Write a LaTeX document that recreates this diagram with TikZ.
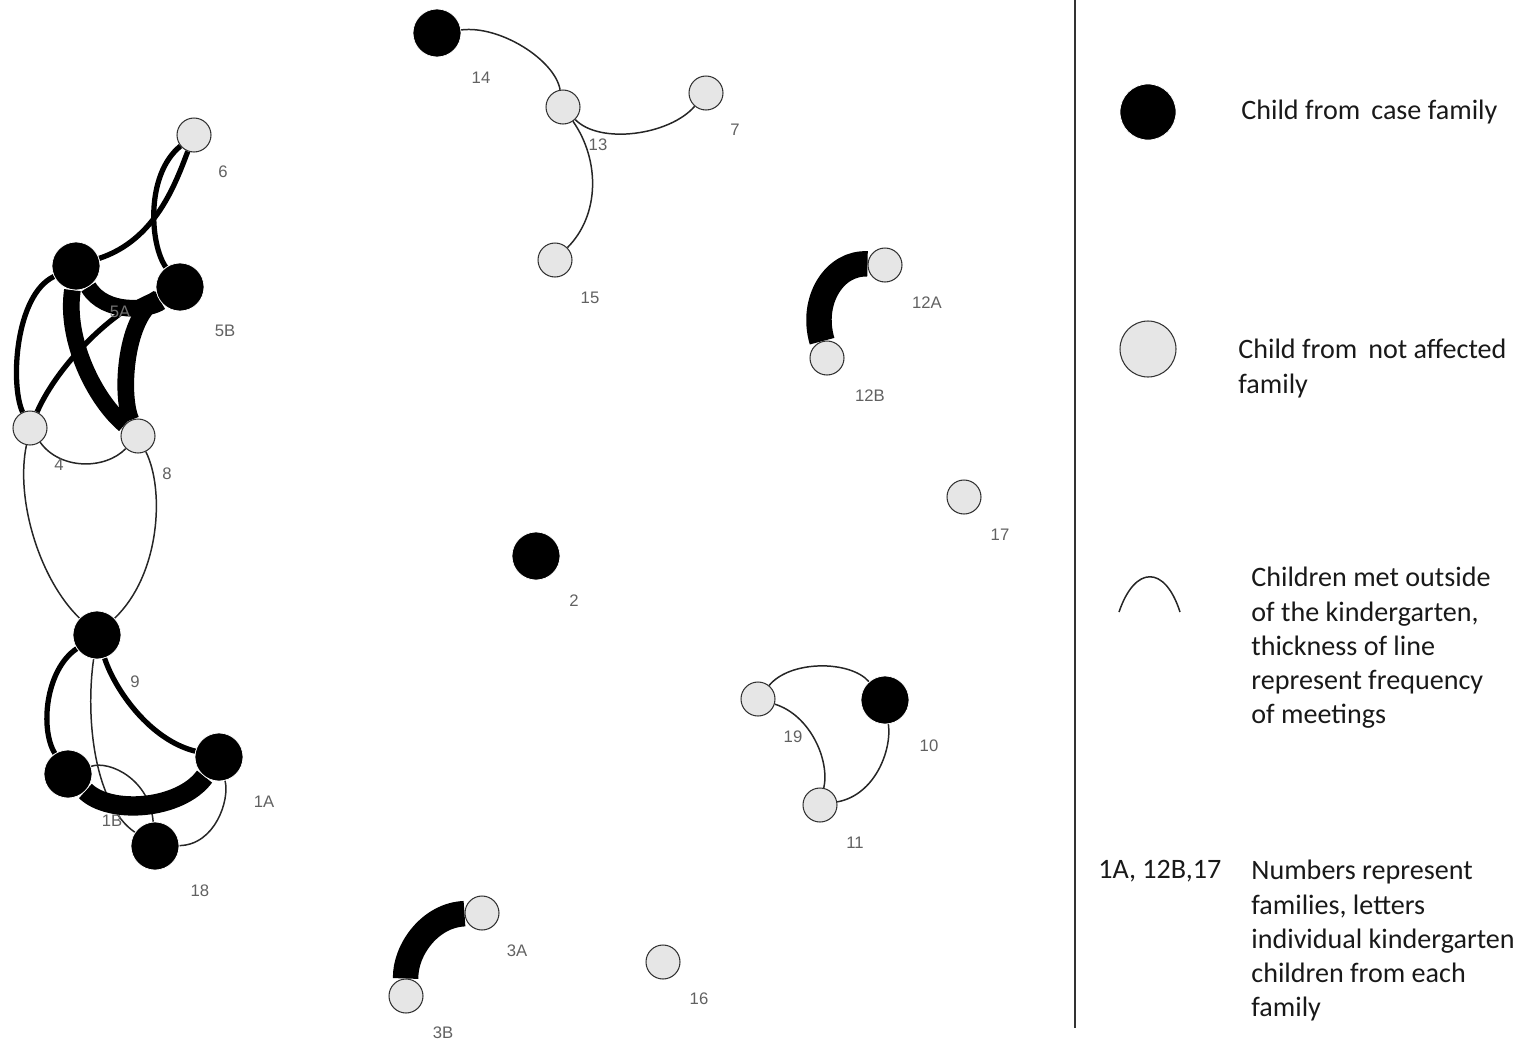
\documentclass[tikz,border=0pt]{standalone}
\usepackage{fontspec}
\setmainfont{Carlito}
\newfontfamily\lblfont{Liberation Sans}
\usetikzlibrary{backgrounds}
\definecolor{nodegray}{HTML}{E6E6E6}
\begin{document}
\begin{tikzpicture}[x=0.02cm,y=-0.02cm,
  casechild/.style={circle,fill=black,draw=white,line width=0.4pt,minimum size=0.96cm,inner sep=0},
  otherchild/.style={circle,fill=nodegray,draw=black!80,line width=0.6pt,minimum size=0.68cm,inner sep=0},
  idlabel/.style={font=\lblfont\fontsize{9.5}{11}\selectfont,text=black!62,inner sep=0},
  meet/.style={line width=0.85pt,draw=black!85},
  meetoften/.style={line width=3pt,draw=black},
  meetvery/.style={line width=9.5pt,draw=black},
  meetmost/.style={line width=14.5pt,draw=black},
  legendtext/.style={font=\fontsize{16}{19.5}\selectfont,align=left,anchor=north west,inner sep=0,text=black!90},
]
\useasboundingbox (0,0) rectangle (1519,1042);

% ---- children ----
\node[casechild]  (n14)  at (437,33)  {};
\node[otherchild] (n13)  at (563,107) {};
\node[otherchild] (n7)   at (706,93)  {};
\node[otherchild] (n15)  at (555,260) {};
\node[otherchild] (n6)   at (194,135) {};
\node[casechild]  (n5A)  at (76,266)  {};
\node[casechild]  (n5B)  at (180,287) {};
\node[otherchild] (n4)   at (30,428)  {};
\node[otherchild] (n8)   at (138,436) {};
\node[casechild]  (n9)   at (97,635)  {};
\node[casechild]  (n1B)  at (68,774)  {};
\node[casechild]  (n1A)  at (219,757) {};
\node[casechild]  (n18)  at (155,846) {};
\node[otherchild] (n12A) at (885,265) {};
\node[otherchild] (n12B) at (827,358) {};
\node[otherchild] (n17)  at (964,497) {};
\node[casechild]  (n2)   at (536,556) {};
\node[otherchild] (n19)  at (758,699) {};
\node[casechild]  (n10)  at (885,700) {};
\node[otherchild] (n11)  at (820,805) {};
\node[otherchild] (n3A)  at (482,913) {};
\node[otherchild] (n3B)  at (406,996) {};
\node[otherchild] (n16)  at (663,962) {};

% ---- identifiers ----
\node[idlabel] (l14)  at (481,78)   {14};
\node[idlabel] (l13)  at (598,145)  {13};
\node[idlabel] (l7)   at (735,130)  {7};
\node[idlabel] (l15)  at (590,298)  {15};
\node[idlabel] (l6)   at (223,172)  {6};
\node[idlabel,text=black!55] (l5A) at (120,312) {5A};
\node[idlabel] (l5B)  at (225,331)  {5B};
\node[idlabel] (l4)   at (59,465)   {4};
\node[idlabel] (l8)   at (167,474)  {8};
\node[idlabel] (l9)   at (135,682)  {9};
\node[idlabel] (l1B)  at (112,821)  {1B};
\node[idlabel] (l1A)  at (264,802)  {1A};
\node[idlabel] (l18)  at (200,891)  {18};
\node[idlabel] (l12A) at (927,303)  {12A};
\node[idlabel] (l12B) at (870,396)  {12B};
\node[idlabel] (l17)  at (1000,535) {17};
\node[idlabel] (l2)   at (574,601)  {2};
\node[idlabel] (l19)  at (793,737)  {19};
\node[idlabel] (l10)  at (929,746)  {10};
\node[idlabel] (l11)  at (855,843)  {11};
\node[idlabel] (l3A)  at (517,951)  {3A};
\node[idlabel] (l3B)  at (443,1033) {3B};
\node[idlabel] (l16)  at (699,999)  {16};

% ---- meetings outside the kindergarten ----
\begin{scope}[on background layer]
\draw[meet] (n14) .. controls (500,25) and (555,60) .. (n13);
\draw[meet] (n13) .. controls (600,145) and (670,135) .. (n7);
\draw[meet] (n13) .. controls (600,160) and (600,215) .. (n15);

\draw[meetoften] (n6) .. controls (175,185) and (155,240) .. (n5A);
\draw[meetoften] (n6) .. controls (145,175) and (150,245) .. (n5B);
\draw[meetvery] (n5A) .. controls (105,315) and (150,310) .. (n5B);
\draw[meetvery] (n5A) .. controls (65,340) and (95,400) .. (n8);
\draw[meetvery] (n5B) .. controls (125,315) and (120,395) .. (n8);
\draw[meetoften] (n5A) .. controls (15,295) and (10,385) .. (n4);
\draw[meetoften] (n5B) .. controls (120,305) and (60,360) .. (n4);
\draw[meet] (n4) .. controls (60,470) and (105,470) .. (n8);
\draw[meet] (n4) .. controls (15,500) and (40,580) .. (n9);
\draw[meet] (n8) .. controls (165,490) and (160,575) .. (n9);

\draw[meetoften] (n9) .. controls (45,670) and (40,730) .. (n1B);
\draw[meetoften] (n9) .. controls (115,690) and (150,740) .. (n1A);
\draw[meet] (n9) .. controls (85,720) and (95,805) .. (n18);
\draw[meet] (n1B) .. controls (110,760) and (150,780) .. (n18);
\draw[meetvery,line width=11pt] (n1B) .. controls (110,815) and (180,810) .. (n1A);
\draw[meet] (n1A) .. controls (230,800) and (215,845) .. (n18);

\draw[meetmost] (n12A) .. controls (835,262) and (810,300) .. (n12B);
\draw[meetmost] (n3A) .. controls (430,915) and (405,950) .. (n3B);

\draw[meet] (n19) .. controls (790,660) and (850,660) .. (n10);
\draw[meet] (n19) .. controls (810,715) and (830,760) .. (n11);
\draw[meet] (n10) .. controls (892,750) and (875,795) .. (n11);
\end{scope}

% ---- legend ----
\coordinate (sepTop) at (1075,0);
\coordinate (sepBot) at (1075,1028);
\draw[line width=0.9pt,black!80] (sepTop) -- (sepBot);

\node[casechild,minimum size=1.12cm] (keyCase) at (1148,112) {};
\node[otherchild,minimum size=1.12cm] (keyOther) at (1148,349) {};
\coordinate (arcL) at (1119,612);
\coordinate (arcR) at (1180,612);
\draw[meet] (arcL) .. controls (1135,565) and (1165,565) .. (arcR);

\node[legendtext,anchor=west] (txtCase) at (1241,112) {Child from\, case family};
\node[legendtext] (txtOther) at (1238,339) {Child from\, not affected\\family};
\node[legendtext] (txtMeet) at (1251,567) {Children met outside\\of the kindergarten,\\thickness of line\\represent frequency\\of meetings};
\node[legendtext] (txtCode) at (1098,860) {1A, 12B,17};
\node[legendtext] (txtNum) at (1251,860) {Numbers represent\\families, letters\\individual kindergarten\\children from each\\family};
\end{tikzpicture}
\end{document}
